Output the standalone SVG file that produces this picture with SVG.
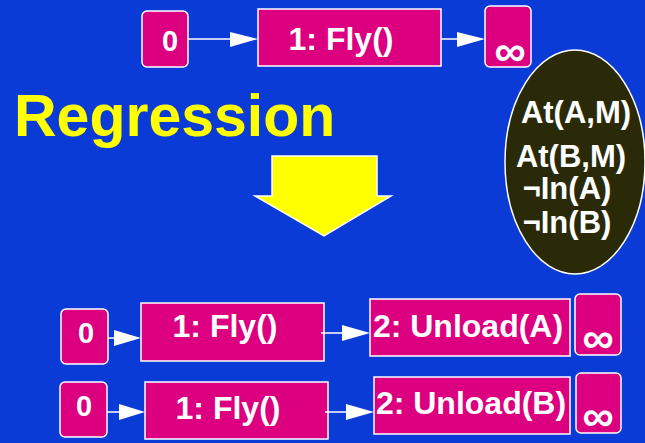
<svg xmlns="http://www.w3.org/2000/svg" width="645" height="443" viewBox="0 0 645 443">
  <style>
    .bg { fill: #0b3bd6; }
    .step { fill: #dc0080; stroke: #ffffff; stroke-width: 1.5; }
    .lbl { fill: #ffffff; font-family: "Liberation Sans", Arial, sans-serif; font-weight: bold; text-anchor: middle; }
    .num { font-size: 29px; }
    .act { font-size: 32px; }
    .inf { font-size: 44px; }
    .edge { stroke: #ffffff; stroke-width: 1.5; fill: none; }
    .head { fill: #ffffff; }
    .cond { fill: #ffffff; font-family: "Liberation Sans", Arial, sans-serif; font-weight: bold; font-size: 31px; text-anchor: middle; }
  </style>

  <rect class="bg" x="0" y="0" width="645" height="443"/>

  <!-- Top plan: 0 -> Fly -> ∞ -->
  <g id="top-start">
    <rect class="step" x="142" y="11" width="46" height="56" rx="5"/>
    <text class="lbl num" x="170" y="51">0</text>
  </g>
  <g id="top-fly">
    <rect class="step" x="258" y="9" width="183" height="57"/>
    <text class="lbl act" x="341" y="50">1: Fly()</text>
  </g>
  <g id="top-goal">
    <rect class="step" x="485" y="6" width="46" height="61" rx="5"/>
    <text class="lbl inf" x="510" y="66">∞</text>
  </g>

  <!-- Heading -->
  <text id="title" x="14" y="136" fill="#ffff00" font-family="'Liberation Sans', Arial, sans-serif" font-weight="bold" font-size="59">Regression</text>

  <!-- Big down arrow -->
  <g id="regress-arrow">
    <polygon points="272,156 377,156 377,196 391,196 324,236 255,196 272,196" fill="#ffff00" stroke="#ffffff" stroke-width="1.5"/>
  </g>

  <!-- Goal conditions -->
  <g id="conditions">
    <ellipse cx="575" cy="162" rx="70" ry="112" fill="#2b2a08" stroke="#ffffff" stroke-width="1.5"/>
    <text class="cond" x="576" y="123">At(A,M)</text>
    <text class="cond" x="571" y="167">At(B,M)</text>
    <text class="cond" x="567" y="199">¬In(A)</text>
    <text class="cond" x="567" y="233">¬In(B)</text>
  </g>

  <!-- Plan A -->
  <g id="a-start">
    <rect class="step" x="61" y="309" width="47" height="55" rx="5"/>
    <text class="lbl num" x="86" y="343">0</text>
  </g>
  <g id="a-fly">
    <rect class="step" x="141" y="303" width="183" height="58"/>
    <text class="lbl act" x="225" y="337">1: Fly()</text>
  </g>
  <g id="a-unload">
    <rect class="step" x="370" y="299" width="200" height="57"/>
    <text class="lbl act" x="468" y="337">2: Unload(A)</text>
  </g>
  <g id="a-goal">
    <rect class="step" x="575" y="294" width="46" height="61" rx="5"/>
    <text class="lbl inf" x="598" y="353">∞</text>
  </g>

  <!-- Plan B -->
  <g id="b-start">
    <rect class="step" x="60" y="382" width="47" height="55" rx="5"/>
    <text class="lbl num" x="84" y="416">0</text>
  </g>
  <g id="b-fly">
    <rect class="step" x="145" y="382" width="183" height="57"/>
    <text class="lbl act" x="228" y="419">1: Fly()</text>
  </g>
  <g id="b-unload">
    <rect class="step" x="374" y="377" width="196" height="57"/>
    <text class="lbl act" x="471" y="414">2: Unload(B)</text>
  </g>
  <g id="b-goal">
    <rect class="step" x="576" y="373" width="45" height="60" rx="5"/>
    <text class="lbl inf" x="598" y="431">∞</text>
  </g>

  <!-- Ordering links -->
  <g id="connectors">
    <line class="edge" x1="188" y1="39" x2="232" y2="39"/>
    <polygon class="head" points="230,32 258,39 230,47"/>
    <line class="edge" x1="441" y1="39" x2="459" y2="39"/>
    <polygon class="head" points="457,32 485,39 457,47"/>

    <line class="edge" x1="108" y1="338" x2="116" y2="338"/>
    <polygon class="head" points="114,330 141,338 114,346"/>
    <line class="edge" x1="321" y1="333" x2="344" y2="333"/>
    <polygon class="head" points="342,325 370,333 342,341"/>

    <line class="edge" x1="107" y1="412" x2="121" y2="412"/>
    <polygon class="head" points="119,404 145,412 119,420"/>
    <line class="edge" x1="325" y1="412" x2="348" y2="412"/>
    <polygon class="head" points="346,404 374,412 346,420"/>
  </g>
</svg>
